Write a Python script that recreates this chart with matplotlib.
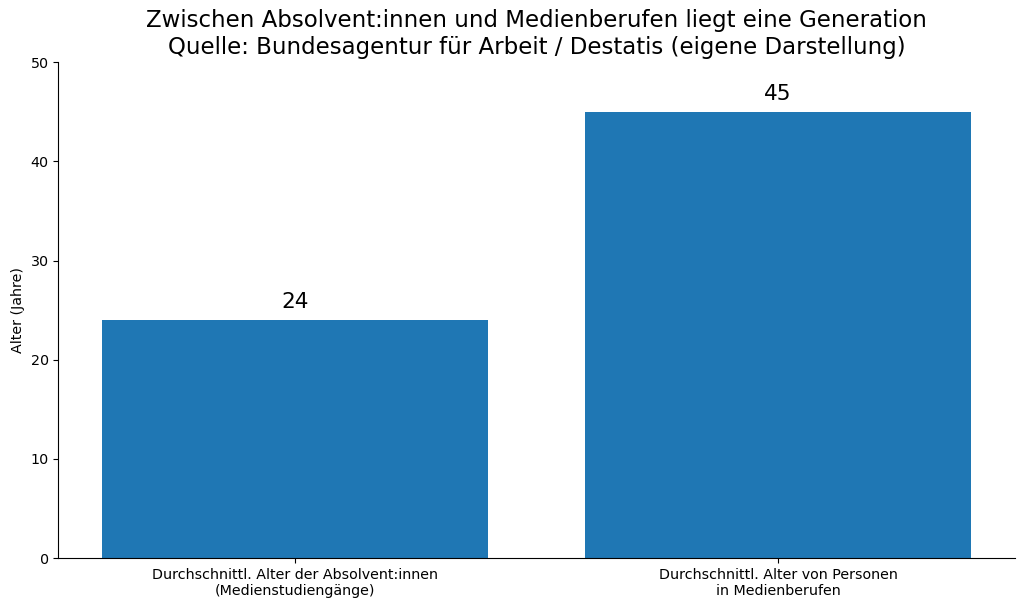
import matplotlib.pyplot as plt

# Daten
kategorien = ['Durchschnittl. Alter der Absolvent:innen\n(Medienstudiengänge)',
              'Durchschnittl. Alter von Personen\nin Medienberufen']
alter = [24, 45]

fig, ax = plt.subplots(figsize=(10.24, 6.1), dpi=100)

balken = ax.bar(kategorien, alter, color='#1f77b4')

for b, wert in zip(balken, alter):
    ax.text(b.get_x() + b.get_width() / 2, wert + 0.8, str(wert),
            ha='center', va='bottom', fontsize=15.5)

ax.set_ylim(0, 50)
ax.set_ylabel('Alter (Jahre)', fontsize=10.3)
ax.tick_params(labelsize=10.3)
ax.set_title('Zwischen Absolvent:innen und Medienberufen liegt eine Generation\n'
             'Quelle: Bundesagentur für Arbeit / Destatis (eigene Darstellung)',
             fontsize=16.5)

ax.spines['top'].set_visible(False)
ax.spines['right'].set_visible(False)

plt.subplots_adjust(left=0.057, right=0.991, top=0.898, bottom=0.085)
plt.savefig('out.png', dpi=100)
plt.close()
